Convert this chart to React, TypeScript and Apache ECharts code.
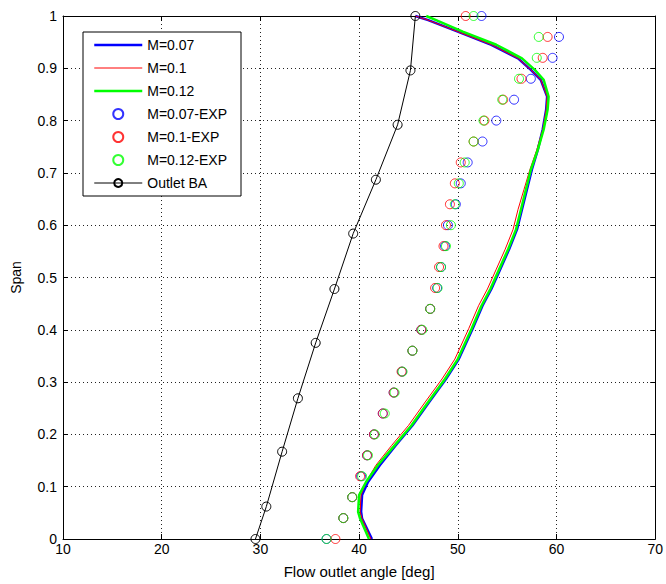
import React, { useEffect, useRef } from "react";
import * as echarts from "echarts";

// ---- Data ----
const xTicks = [10, 20, 30, 40, 50, 60, 70];

const cfdSpan = [0, 0.039, 0.052, 0.084, 0.109, 0.141, 0.179, 0.217, 0.262, 0.306, 0.344, 0.402, 0.446, 0.478, 0.516, 0.554, 0.592, 0.63, 0.668, 0.706, 0.744, 0.783, 0.821, 0.846, 0.878, 0.897, 0.919, 0.945, 0.97, 0.992, 1.0];
const cfdM007 = [41.3, 40.3, 40.2, 40.3, 40.9, 42.1, 43.7, 45.4, 47.1, 48.8, 50.1, 51.5, 52.5, 53.4, 54.3, 55.2, 56.0, 56.5, 57.0, 57.5, 58.1, 58.6, 58.95, 59.05, 58.4, 57.4, 56.1, 53.4, 50.0, 47.0, 45.7];
const cfdM010 = [41.2, 40.3, 40.1, 40.2, 40.7, 41.7, 43.3, 45.0, 46.7, 48.4, 49.7, 51.1, 52.1, 53.0, 53.9, 54.8, 55.6, 56.1, 56.7, 57.3, 58.0, 58.6, 58.95, 59.05, 58.4, 57.4, 56.1, 53.4, 50.0, 47.0, 45.7];
const cfdM012 = [41.0, 40.1, 39.9, 40.0, 40.7, 41.9, 43.6, 45.3, 47.0, 48.7, 50.0, 51.4, 52.4, 53.3, 54.2, 55.1, 55.9, 56.4, 56.9, 57.4, 58.1, 58.7, 59.1, 59.2, 58.7, 57.8, 56.5, 53.9, 50.5, 47.8, 46.8];

const expSpan = [0, 0.04, 0.08, 0.12, 0.16, 0.2, 0.24, 0.28, 0.32, 0.36, 0.4, 0.44, 0.48, 0.52, 0.56, 0.6, 0.64, 0.68, 0.72, 0.76, 0.8, 0.84, 0.88, 0.92, 0.96, 1.0];
const expM007 = [36.7, 38.4, 39.3, 40.2, 40.8, 41.5, 42.4, 43.5, 44.35, 45.4, 46.3, 47.2, 47.9, 48.3, 48.7, 49.0, 49.8, 50.3, 51.0, 52.5, 53.9, 55.7, 57.4, 59.6, 60.25, 52.4];
const expM010 = [37.6, 38.4, 39.3, 40.1, 40.8, 41.5, 42.4, 43.5, 44.3, 45.4, 46.3, 47.2, 47.7, 48.1, 48.55, 48.8, 49.2, 49.7, 50.3, 51.6, 52.7, 54.6, 56.45, 58.6, 59.1, 50.8];
const expM012 = [36.7, 38.4, 39.3, 40.3, 40.9, 41.6, 42.6, 43.6, 44.4, 45.4, 46.4, 47.2, 47.95, 48.3, 48.8, 49.3, 49.7, 50.1, 50.7, 51.6, 52.6, 54.5, 56.2, 58.0, 58.2, 51.6];

const baSpan = [0, 0.062, 0.167, 0.269, 0.375, 0.478, 0.584, 0.687, 0.792, 0.896, 1.0];
const baAngle = [29.5, 30.6, 32.2, 33.8, 35.6, 37.5, 39.4, 41.7, 43.9, 45.2, 45.7];

const seriesNames = ["M=0.07", "M=0.1", "M=0.12", "M=0.07-EXP", "M=0.1-EXP", "M=0.12-EXP", "Outlet BA"];

const pairs = (xs: number[], ys: number[]) => xs.map((x, i) => [x, ys[i]]);

const FONT = "Liberation Sans, Arial, sans-serif";

export default function App() {
  const ref = useRef<HTMLDivElement>(null);
  useEffect(() => {
    if (!ref.current) return;
    const chart = echarts.init(ref.current, undefined, { renderer: "svg" });
    const axisCommon = {
      type: "value" as const,
      axisLine: { show: true, onZero: false, lineStyle: { color: "#000", width: 1 } },
      axisTick: { show: true, inside: true, length: 5, lineStyle: { color: "#000" } },
    };
    const dotted = { show: true, lineStyle: { color: "#222", width: 1, type: [1, 3] } };
    const lineSeries = (name: string, xs: number[], color: string, width: number, z: number) => ({
      name,
      type: "line",
      data: pairs(xs, cfdSpan),
      symbol: "none",
      showSymbol: false,
      lineStyle: { color, width },
      itemStyle: { color },
      clip: false,
      z,
    });
    const expSeries = (name: string, xs: number[], color: string) => ({
      name,
      type: "scatter",
      data: pairs(xs, expSpan),
      symbol: "circle",
      symbolSize: 9,
      itemStyle: { color: "rgba(0,0,0,0)", borderColor: color, borderWidth: 1 },
      clip: false,
      z: 5,
    });
    const hiddenSym = { color: "rgba(0,0,0,0)", borderColor: "rgba(0,0,0,0)", borderWidth: 0, opacity: 0 };
    chart.setOption({
      animation: false,
      backgroundColor: "#fff",
      textStyle: { fontFamily: FONT },
      grid: { left: 63, right: 8, top: 16, bottom: 43, containLabel: false },
      xAxis: [
        {
          ...axisCommon,
          position: "bottom",
          min: xTicks[0],
          max: xTicks[xTicks.length - 1],
          interval: 10,
          axisLabel: { color: "#000", fontSize: 14, margin: 3, fontFamily: FONT },
          splitLine: dotted,
          name: "Flow outlet angle [deg]",
          nameLocation: "middle",
          nameGap: 25,
          nameTextStyle: { color: "#000", fontSize: 15, fontFamily: FONT },
        },
        {
          ...axisCommon,
          position: "top",
          min: xTicks[0],
          max: xTicks[xTicks.length - 1],
          interval: 10,
          axisLabel: { show: false },
          splitLine: { show: false },
        },
      ],
      yAxis: [
        {
          ...axisCommon,
          position: "left",
          min: 0,
          max: 1,
          interval: 0.1,
          axisLabel: {
            color: "#000",
            fontSize: 14,
            margin: 6,
            fontFamily: FONT,
            formatter: (v: number) => String(Math.round(v * 10) / 10),
          },
          splitLine: dotted,
          name: "Span",
          nameLocation: "middle",
          nameGap: 40,
          nameTextStyle: { color: "#000", fontSize: 14, fontFamily: FONT },
        },
        {
          ...axisCommon,
          position: "right",
          min: 0,
          max: 1,
          interval: 0.1,
          axisLabel: { show: false },
          splitLine: { show: false },
        },
      ],
      legend: {
        orient: "vertical",
        left: 83,
        top: 32,
        padding: [6, 14, 6, 10],
        itemWidth: 48,
        itemHeight: 10,
        itemGap: 9,
        backgroundColor: "#fff",
        borderColor: "#000",
        borderWidth: 1,
        borderRadius: 0,
        selectedMode: false,
        textStyle: { color: "#000", fontSize: 14, lineHeight: 14, fontFamily: FONT },
        data: [
          { name: seriesNames[0], itemStyle: hiddenSym, lineStyle: { width: 2.5 } },
          { name: seriesNames[1], itemStyle: hiddenSym, lineStyle: { width: 1 } },
          { name: seriesNames[2], itemStyle: hiddenSym, lineStyle: { width: 2.5 } },
          { name: seriesNames[3] },
          { name: seriesNames[4] },
          { name: seriesNames[5] },
          { name: seriesNames[6], lineStyle: { width: 1 } },
        ],
        z: 10,
      },
      series: [
        lineSeries(seriesNames[0], cfdM007, "#0000ff", 2.5, 2),
        lineSeries(seriesNames[1], cfdM010, "#ff0000", 1, 2),
        lineSeries(seriesNames[2], cfdM012, "#00ff00", 2.5, 3),
        expSeries(seriesNames[3], expM007, "#0000ff"),
        expSeries(seriesNames[4], expM010, "#ff0000"),
        expSeries(seriesNames[5], expM012, "#00ff00"),
        {
          name: seriesNames[6],
          type: "line",
          data: pairs(baAngle, baSpan),
          symbol: "circle",
          symbolSize: 9,
          showSymbol: true,
          lineStyle: { color: "#000", width: 1 },
          itemStyle: { color: "rgba(0,0,0,0)", borderColor: "#000", borderWidth: 1 },
          clip: false,
          z: 5,
        },
      ],
    });
    return () => chart.dispose();
  }, []);
  return (
    <div
      ref={ref}
      style={{ position: "absolute", left: 0, top: 0, width: 666, height: 584, background: "#fff" }}
    />
  );
}
